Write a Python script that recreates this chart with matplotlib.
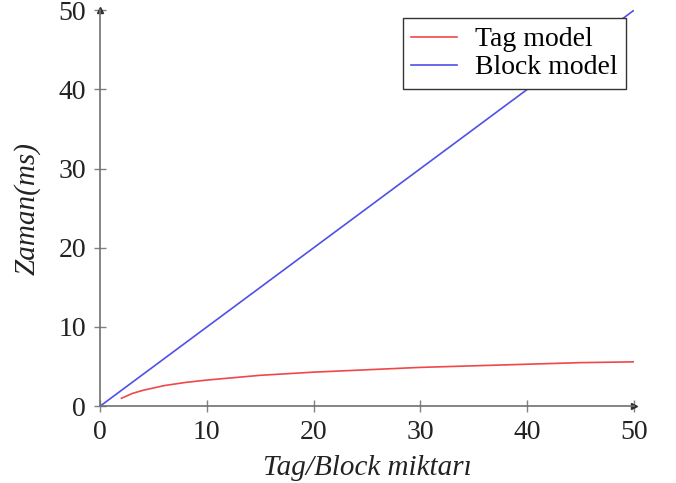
import matplotlib
matplotlib.use('Agg')
import matplotlib.pyplot as plt

# Values
tag_x = [2, 3, 4, 6, 8, 10, 15, 20, 25, 30, 35, 40, 45, 50]
tag_y = [1.0, 1.6, 2.0, 2.6, 3.0, 3.3, 3.9, 4.3, 4.6, 4.9, 5.1, 5.3, 5.5, 5.6]
block_x = [0, 50]
block_y = [0, 50]
ticks = [0, 10, 20, 30, 40, 50]

plt.rcParams['font.family'] = ['Liberation Serif', 'DejaVu Serif']

fig = plt.figure(figsize=(6.76, 4.83), dpi=100)
ax = fig.add_axes([0.148, 0.159, 0.790, 0.820])

ax.plot(tag_x, tag_y, color='#f04848', lw=1.2, label='Tag model')
ax.plot(block_x, block_y, color='#5050e8', lw=1.2, label='Block model')

ax.set_xlim(0, 50)
ax.set_ylim(0, 50)
ax.set_xticks(ticks)
ax.set_yticks(ticks)

# pgfplots-like axis lines: only left and bottom, with arrow heads
for side in ('top', 'right'):
    ax.spines[side].set_visible(False)
for side in ('left', 'bottom'):
    ax.spines[side].set_color('#707070')
    ax.spines[side].set_linewidth(1.2)
ax.plot(1, 0, '>', color='#303030', ms=5, transform=ax.transAxes, clip_on=False)
ax.plot(0, 1, '^', color='#303030', ms=5, transform=ax.transAxes, clip_on=False)

ax.tick_params(direction='inout', length=8, width=1, color='#808080',
               labelsize=20, labelcolor='#222222', pad=6)

ax.set_xlabel('Tag/Block miktarı', fontsize=21, style='italic',
              color='#222222', labelpad=7)
ax.set_ylabel('Zaman(ms)', fontsize=21, style='italic',
              color='#222222', labelpad=13)

leg = ax.legend(loc='upper right', fontsize=20, fancybox=False, framealpha=1,
                edgecolor='#333333', handlelength=1.65, borderaxespad=0.3,
                labelspacing=0.1, handletextpad=0.65, borderpad=0.3)
leg.get_frame().set_linewidth(1.0)

fig.savefig('out.png', dpi=100)
